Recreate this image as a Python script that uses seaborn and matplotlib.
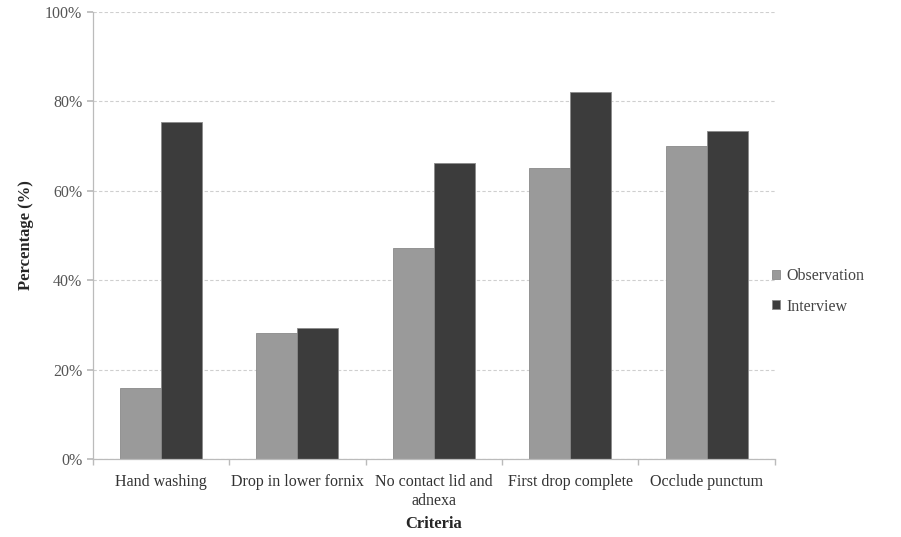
import numpy as np
import matplotlib.pyplot as plt
import seaborn as sns
import pandas as pd
from matplotlib.ticker import PercentFormatter, FixedLocator

sns.set_theme()
sns.set_style("white")
plt.rcParams['font.family'] = ['Liberation Serif', 'DejaVu Serif']

criteria = ["Hand washing", "Drop in lower fornix", "No contact lid and\nadnexa",
            "First drop complete", "Occlude punctum"]
observation = [15.9, 28.2, 47.2, 65.1, 70.0]
interview = [75.4, 29.3, 66.2, 82.1, 73.4]

df = pd.DataFrame({
    'criteria': criteria * 2,
    'value': observation + interview,
    'source': ['Observation'] * 5 + ['Interview'] * 5,
})

fig = plt.figure(figsize=(9.01, 5.37), dpi=100)
ax = fig.add_axes([0.103, 0.145, 0.757, 0.833])

sns.barplot(data=df, x='criteria', y='value', hue='source', ax=ax,
            palette={'Observation': '#9a9a9a', 'Interview': '#3c3c3c'},
            width=0.6, gap=0, edgecolor='#8a8a8a', linewidth=0.6, saturation=1)

ax.set_ylim(0, 100)
ax.set_xlim(-0.5, 4.5)
ax.yaxis.set_major_locator(FixedLocator([0, 20, 40, 60, 80, 100]))
ax.yaxis.set_major_formatter(PercentFormatter(decimals=0))
ax.yaxis.grid(True, linestyle=(0, (3, 2)), color='#cfcfcf', linewidth=0.8)
ax.set_axisbelow(True)

# category boundary ticks on x axis
ax.set_xticks(np.arange(5))
ax.set_xticks(np.arange(-0.5, 5, 1), minor=True)
ax.tick_params(axis='x', which='major', length=0, pad=11, labelsize=11.5, colors='#333333')
ax.tick_params(axis='x', which='minor', length=4, color='#bbbbbb', bottom=True)
ax.tick_params(axis='y', length=4, color='#bbbbbb', left=True, labelsize=11.5, colors='#555555')

for side in ['top', 'right']:
    ax.spines[side].set_visible(False)
for side in ['left', 'bottom']:
    ax.spines[side].set_color('#bbbbbb')
    ax.spines[side].set_linewidth(0.9)

ax.set_xlabel('Criteria', fontsize=12, fontweight='bold', labelpad=5)
ax.set_ylabel('Percentage (%)', fontsize=12, fontweight='bold', labelpad=8)

leg = ax.legend(loc='center left', bbox_to_anchor=(0.975, 0.375), frameon=False,
                fontsize=11.5, handlelength=0.5, handleheight=0.5, handletextpad=0.4,
                labelspacing=0.9)
for t in leg.get_texts():
    t.set_color('#444444')

fig.savefig('out.png', dpi=100)
